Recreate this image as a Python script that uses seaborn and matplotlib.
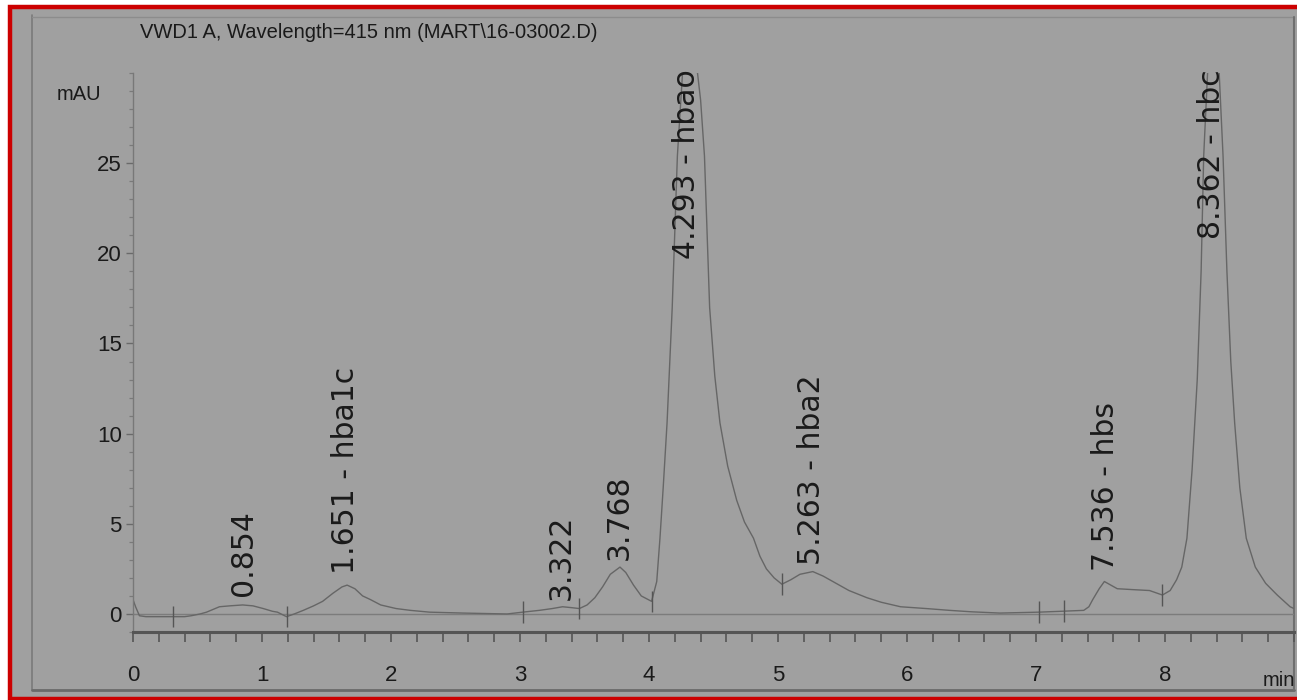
import numpy as np
import seaborn as sns
import matplotlib.pyplot as plt
from matplotlib.patches import Rectangle
from matplotlib.lines import Line2D
from matplotlib.ticker import MultipleLocator

# chromatogram trace (min, mAU)
time_min = [0.00, 0.02, 0.05, 0.10, 0.20, 0.30, 0.40, 0.45, 0.52, 0.57, 0.62, 0.67,
            0.75, 0.85, 0.93, 1.01, 1.08, 1.12, 1.19, 1.25, 1.32, 1.40, 1.47, 1.55,
            1.62, 1.66, 1.72, 1.78, 1.84, 1.92, 2.04, 2.15, 2.30, 2.56, 2.90, 3.02,
            3.15, 3.25, 3.33, 3.40, 3.46, 3.52, 3.58, 3.64, 3.70, 3.775, 3.82, 3.88,
            3.94, 4.02, 4.06, 4.085, 4.11, 4.14, 4.18, 4.22, 4.26, 4.30, 4.36, 4.40,
            4.43, 4.47, 4.51, 4.55, 4.61, 4.68, 4.74, 4.81, 4.86, 4.91, 4.97, 5.03,
            5.10, 5.17, 5.27, 5.35, 5.45, 5.55, 5.69, 5.80, 5.95, 6.15, 6.33, 6.50,
            6.72, 6.90, 7.02, 7.20, 7.37, 7.41, 7.44, 7.49, 7.53, 7.58, 7.63, 7.75,
            7.88, 7.98, 8.04, 8.09, 8.13, 8.17, 8.21, 8.25, 8.28, 8.30, 8.33, 8.37,
            8.42, 8.45, 8.48, 8.51, 8.54, 8.58, 8.63, 8.70, 8.78, 8.87, 8.97, 9.00]
signal_mau = [0.8, 0.4, -0.1, -0.15, -0.15, -0.15, -0.15, -0.1, 0.0, 0.1, 0.25, 0.4,
              0.45, 0.5, 0.45, 0.3, 0.15, 0.1, -0.15, 0.0, 0.2, 0.45, 0.7, 1.15,
              1.5, 1.6, 1.4, 1.0, 0.8, 0.5, 0.3, 0.2, 0.1, 0.05, 0.0, 0.1,
              0.2, 0.3, 0.4, 0.35, 0.3, 0.5, 0.9, 1.5, 2.2, 2.6, 2.3, 1.6,
              1.0, 0.7, 1.8, 4.2, 7.0, 10.6, 17.0, 25.4, 30.0, 31.5, 31.0, 28.5,
              25.4, 17.0, 13.2, 10.6, 8.2, 6.3, 5.1, 4.2, 3.2, 2.5, 2.0, 1.65,
              1.9, 2.2, 2.35, 2.1, 1.7, 1.3, 0.9, 0.65, 0.4, 0.3, 0.2, 0.12,
              0.05, 0.08, 0.1, 0.15, 0.2, 0.4, 0.8, 1.4, 1.8, 1.6, 1.4, 1.35,
              1.3, 1.05, 1.3, 1.9, 2.6, 4.2, 8.0, 13.0, 19.0, 25.4, 30.0, 32.0,
              30.0, 25.4, 19.0, 14.0, 10.6, 7.0, 4.2, 2.6, 1.7, 1.05, 0.4, 0.3]

# integration start/stop marks
mark_time = [0.31, 1.19, 3.02, 3.46, 4.02, 5.03, 7.02, 7.22, 7.98]
mark_mau = [-0.15, -0.15, 0.1, 0.3, 0.7, 1.65, 0.1, 0.15, 1.05]

# peak annotations
peak_labels = ['0.854', '1.651 - hba1c', '3.322', '3.768', '4.293 - hbao',
               '5.263 - hba2', '7.536 - hbs', '8.362 - hbc']
peak_times = [0.854, 1.651, 3.322, 3.768, 4.293, 5.263, 7.536, 8.362]
label_mau = [1.0, 2.2, 0.8, 3.0, 30.2, 2.7, 2.4, 30.2]
label_va = ['bottom', 'bottom', 'bottom', 'bottom', 'top', 'bottom', 'bottom', 'top']

x_ticks = [0, 1, 2, 3, 4, 5, 6, 7, 8]
y_ticks = [0, 5, 10, 15, 20, 25]

bg = '#a0a0a0'
ink = '#1a1a1a'

sns.set_theme(style='white')
plt.rcParams['font.family'] = ['Liberation Sans Narrow', 'Liberation Sans', 'DejaVu Sans']

W, H = 1297, 700
fig = plt.figure(figsize=(W / 100, H / 100), dpi=100, facecolor='white')

# scanned page: gray area with red outline
fig.patches.append(Rectangle((10 / W, 1 / H), 1.0, (H - 8) / H, transform=fig.transFigure,
                             facecolor=bg, edgecolor='#cc0000', linewidth=3.2, zorder=-5))
# printout frame
frame = [([32, 32], [15, 690], '#7a7a7a', 1.2),
         ([32, 1294], [690, 690], '#6a6a6a', 2.0),
         ([32, 1294], [17, 17], '#8c8c8c', 1.0),
         ([1294, 1294], [17, 690], '#6f6f6f', 1.5)]
for xs, ys, c, lw in frame:
    fig.lines.append(Line2D([x / W for x in xs], [1 - y / H for y in ys],
                            transform=fig.transFigure, color=c, linewidth=lw, zorder=-4))

ax = fig.add_axes([133 / W, (H - 632) / H, (1294 - 133) / W, (632 - 73) / H])
ax.patch.set_visible(False)

ax.axhline(0, color='#7c7c7c', linewidth=1.0, zorder=1)
sns.lineplot(x=time_min, y=signal_mau, ax=ax, color='#666666', linewidth=1.0,
             sort=False, zorder=2)
ax.vlines(mark_time, np.array(mark_mau) - 0.6, np.array(mark_mau) + 0.6,
          color='#555555', linewidth=1.0, zorder=3)

for lab, t, y, va in zip(peak_labels, peak_times, label_mau, label_va):
    ax.text(t, y, lab, rotation=90, ha='center', va=va, fontsize=21.5, color=ink,
            family='DejaVu Sans', zorder=4, clip_on=False)

ax.set_xlim(0, 9)
ax.set_ylim(-1, 30)
ax.set_xticks(x_ticks)
ax.xaxis.set_minor_locator(MultipleLocator(0.2))
ax.yaxis.set_minor_locator(MultipleLocator(1))
ax.set_yticks(y_ticks)

for s in ['top', 'right']:
    ax.spines[s].set_visible(False)
ax.spines['bottom'].set_color('#555555')
ax.spines['bottom'].set_linewidth(2.2)
ax.spines['left'].set_color('#787878')
ax.spines['left'].set_linewidth(1.0)
ax.spines['left'].set_linestyle((0, (3, 1)))

ax.tick_params(axis='x', which='both', direction='out', bottom=True, length=7,
               width=1.2, color='#555555', pad=17, labelsize=16, labelcolor=ink)
ax.tick_params(axis='y', which='major', direction='out', left=True, length=5,
               width=1.0, color='#6a6a6a', pad=3, labelsize=16, labelcolor=ink)
ax.tick_params(axis='y', which='minor', direction='out', left=True, length=3,
               width=0.9, color='#7a7a7a')
ax.set_xlabel('')
ax.set_ylabel('')

fig.text(140 / W, 1 - 33 / H, 'VWD1 A, Wavelength=415 nm (MART\\16-03002.D)',
         ha='left', va='center', fontsize=14.5, color=ink)
fig.text(79 / W, 1 - 95 / H, 'mAU', ha='center', va='center', fontsize=14.5, color=ink)
fig.text(1295 / W, 1 - 680 / H, 'min', ha='right', va='center', fontsize=14.5, color=ink)

plt.savefig('out.png', dpi=100, facecolor=fig.get_facecolor())
